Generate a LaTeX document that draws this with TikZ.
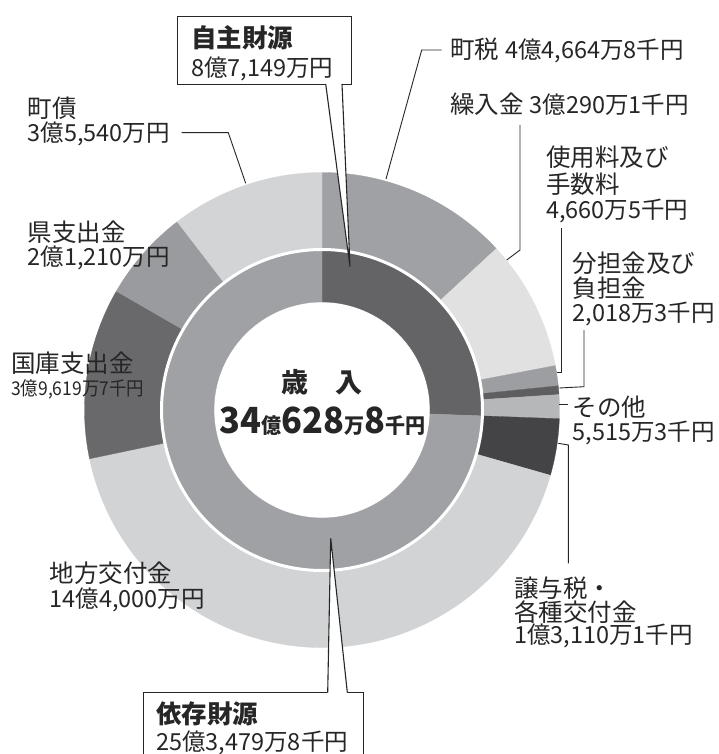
\documentclass[tikz,border=0pt]{standalone}
\usepackage{fontspec}
\setmainfont{Noto Sans CJK JP}
\usepackage{graphicx}
\definecolor{txt}{HTML}{262626}
\definecolor{cMachizei}{HTML}{A0A1A4}
\definecolor{cKuriire}{HTML}{E1E1E2}
\definecolor{cShiyo}{HTML}{9D9EA1}
\definecolor{cBuntan}{HTML}{5E5E61}
\definecolor{cSonota}{HTML}{B6B7B9}
\definecolor{cJoyo}{HTML}{444447}
\definecolor{cChiho}{HTML}{D2D3D5}
\definecolor{cKokko}{HTML}{69696C}
\definecolor{cKen}{HTML}{9A9B9E}
\definecolor{cMachisai}{HTML}{D3D4D6}
\definecolor{cJishu}{HTML}{646467}
\definecolor{cIzon}{HTML}{A0A1A4}
\newcommand\numbig{\fontsize{36}{40}\selectfont}
\newcommand\numsml{\fontsize{21}{24}\selectfont}
\newcommand\lblnum{\fontsize{23.5}{25}\selectfont}
\tikzset{
  lbl/.style={inner sep=0pt, anchor=base west, text=txt, font=\fontsize{24.5}{26}\selectfont},
  num/.style={lbl, font=\fontsize{23.5}{25}\selectfont},
  head/.style={lbl, font=\bfseries\fontsize{25.5}{27}\selectfont},
  leader/.style={draw=txt, line width=0.9pt},
  callbox/.style={draw=txt, fill=white, line width=1.1pt, inner sep=0pt},
  callline/.style={draw=txt, line width=1.1pt, line join=miter},
}
\begin{document}
\begin{tikzpicture}[x=1pt,y=-1pt]
\useasboundingbox (0,0) rectangle (718,754);
\clip (0,0) rectangle (718,754);
\fill[white] (0,0) rectangle (718,754);

% ---- donut ----
\begin{scope}[shift={(322,410)}, x=1pt, y=1pt]
  \foreach \a/\b/\col in {0/47.2046/cMachizei, 47.2046/79.2172/cKuriire, 79.2172/84.1427/cShiyo,
      84.1427/86.2758/cBuntan, 86.2758/92.1047/cSonota, 92.1047/105.9603/cJoyo,
      105.9603/258.1487/cChiho, 258.1487/300.0213/cKokko, 300.0213/322.4374/cKen,
      322.4374/360/cMachisai} {
    \fill[\col, draw=\col, line width=0.3pt] ({90-\a}:237.5) arc[start angle={90-\a}, end angle={90-\b}, radius=237.5]
      -- ({90-\b}:160.5) arc[start angle={90-\b}, end angle={90-\a}, radius=160.5] -- cycle;
  }
  \foreach \a/\b/\col in {0/92.1047/cJishu, 92.1047/360/cIzon} {
    \fill[\col, draw=\col, line width=0.3pt] ({90-\a}:160.5) arc[start angle={90-\a}, end angle={90-\b}, radius=160.5]
      -- ({90-\b}:108) arc[start angle={90-\b}, end angle={90-\a}, radius=108] -- cycle;
  }
  \draw[white, line width=3pt] (0,0) circle[radius=160.5];
\end{scope}

% ---- leader lines ----
\coordinate (mz1) at (386,179);   \coordinate (mz2) at (421.7,50);  \coordinate (mz3) at (441.7,50);
\coordinate (kr1) at (506.7,260); \coordinate (kr2) at (520,250);   \coordinate (kr3) at (520,125);
\coordinate (sy1) at (556.7,372.7); \coordinate (sy2) at (561,372.7); \coordinate (sy3) at (561,228.3);
\coordinate (bt1) at (559.3,388); \coordinate (bt2) at (584,386.7); \coordinate (bt3) at (584,330);
\coordinate (so1) at (559.3,404); \coordinate (so2) at (568.3,404);
\coordinate (jy1) at (558.3,443.3); \coordinate (jy2) at (568.3,445); \coordinate (jy3) at (568.3,563.3);
\coordinate (ms1) at (245.7,183.3); \coordinate (ms2) at (228.3,132.7); \coordinate (ms3) at (181.7,132.7);
\draw[leader] (mz1) -- (mz2) -- (mz3);
\draw[leader] (kr1) -- (kr2) -- (kr3);
\draw[leader] (sy1) -- (sy2) -- (sy3);
\draw[leader] (bt1) -- (bt2) -- (bt3);
\draw[leader] (so1) -- (so2);
\draw[leader] (jy1) -- (jy2) -- (jy3);
\draw[leader] (ms1) -- (ms2) -- (ms3);

% ---- callouts ----
\node[callbox, anchor=north west, minimum width=174pt, minimum height=68pt] (jishubox) at (176.7,16) {};
\coordinate (jtip) at (350,266.7);
\coordinate (jb1) at (325.7,84); \coordinate (jb2) at (342,84);
\fill[white] (325.7,82) -- (jtip) -- (342,82) -- cycle;
\draw[callline] (jb1) -- (jtip) -- (jb2);

\node[callbox, anchor=north west, minimum width=220.6pt, minimum height=90pt] (izonbox) at (142.7,692.3) {};
\coordinate (itip) at (330.7,538.3);
\coordinate (ib1) at (327.7,692.3); \coordinate (ib2) at (347.3,692.3);
\fill[white] (327.7,694.5) -- (itip) -- (347.3,694.5) -- cycle;
\draw[callline] (ib1) -- (itip) -- (ib2);

% ---- box texts ----
\node[head] (jishu1) at (191,48) {自主財源};
\node[num]  (jishu2) at (191,77) {8億7,149万円};
\node[head] (izon1) at (156,723) {依存財源};
\node[num]  (izon2) at (156,750.4) {25億3,479万8千円};

% ---- centre ----
\node[inner sep=0pt, anchor=base, text=txt, font=\bfseries\fontsize{27}{30}\selectfont] (sainyu) at (321.7,392) {歳　入};
\node[inner sep=0pt, anchor=base, text=txt, font=\bfseries] (total) at (322.5,433.3)
  {\scalebox{0.955}[1]{\numbig 34\numsml 億\numbig 628\numsml 万\numbig 8\numsml 千円}};

% ---- right labels ----
\node[lbl] (machizei) at (450,59) {町税\hspace{6pt}\lblnum 4億4,664万8千円};
\node[lbl] (kuriire) at (450,114) {繰入金\hspace{6pt}\lblnum 3億290万1千円};
\node[lbl] (shiyo1) at (546,166.8) {使用料及び};
\node[lbl] (shiyo2) at (546,193.3) {手数料};
\node[num] (shiyo3) at (546,218.9) {4,660万5千円};
\node[lbl] (buntan1) at (572.5,272.6) {分担金及び};
\node[lbl] (buntan2) at (572.5,297.6) {負担金};
\node[num] (buntan3) at (572.5,321.6) {2,018万3千円};
\node[lbl] (sonota1) at (572.5,416) {その他};
\node[num] (sonota2) at (572.5,440.6) {5,515万3千円};
\node[lbl] (joyo1) at (514,597.6) {譲与税・};
\node[lbl] (joyo2) at (514,621) {各種交付金};
\node[num] (joyo3) at (514,643.9) {1億3,110万1千円};

% ---- left labels ----
\node[lbl] (machisai1) at (27.5,117.6) {町債};
\node[num] (machisai2) at (27.5,141.6) {3億5,540万円};
\node[lbl] (ken1) at (27.5,241) {県支出金};
\node[num] (ken2) at (27.5,265.6) {2億1,210万円};
\node[lbl] (kokko1) at (11,372.6) {国庫支出金};
\node[lbl] (kokko2) at (11,395.5) {\scalebox{0.92}[1]{\fontsize{19}{21}\selectfont 3億9,619万7千円}};
\node[lbl] (chiho1) at (49.5,582.6) {地方交付金};
\node[num] (chiho2) at (49.5,607.2) {14億4,000万円};
\end{tikzpicture}
\end{document}
